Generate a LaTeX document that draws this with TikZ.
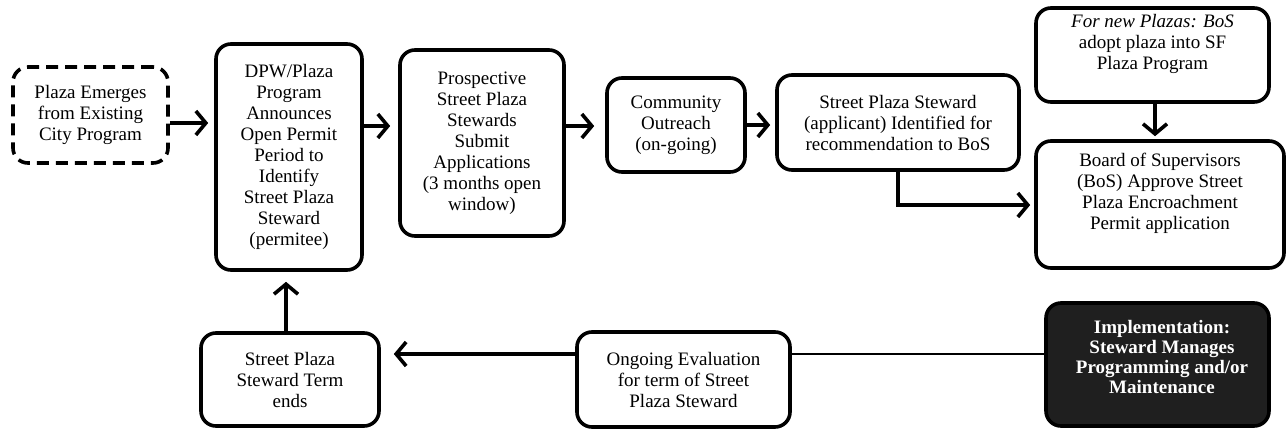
\documentclass[tikz,border=0pt]{standalone}
\usepackage{fontspec}
\setmainfont{Liberation Serif}
\usetikzlibrary{arrows.meta}
\begin{document}
\begin{tikzpicture}[x=1pt,y=-1pt,
  box/.style={draw=black, line width=3.6pt, rounded corners=15pt, align=center,
    font=\fontsize{19}{21}\selectfont, inner sep=0pt},
  dashbox/.style={box, dash pattern=on 12pt off 7pt},
  darkbox/.style={box, fill=black!88},
  txt/.style={align=center, font=\fontsize{19}{21}\selectfont, inner sep=0pt},
  arr/.style={line width=3.6pt, -{Straight Barb[length=10pt,width=24pt,line width=3.6pt]}},
  thin/.style={line width=2.6pt}
]
\useasboundingbox (0,0) rectangle (1286,429);

\node[dashbox, minimum width=155pt, minimum height=96pt] (emerge) at (90.5,115)
  {Plaza Emerges\\from Existing\\City Program};
\node[box, minimum width=146pt, minimum height=226pt] (dpw) at (289,157)
  {DPW/Plaza\\Program\\Announces\\Open Permit\\Period to\\Identify\\Street Plaza\\Steward\\(permitee)};
\node[box, minimum width=164pt, minimum height=186pt] (prosp) at (482,143)
  {Prospective\\Street Plaza\\Stewards\\Submit\\Applications\\(3 months open\\window)};
\node[box, minimum width=138pt, minimum height=94pt] (comm) at (676,125)
  {Community\\Outreach\\(on-going)};
\node[box, minimum width=242pt, minimum height=95pt] (appl) at (898,122.5)
  {Street Plaza Steward\\(applicant) Identified for\\recommendation to BoS};
\node[box, minimum width=233pt, minimum height=94pt] (newp) at (1152.5,55) {};
\node[txt] (newptxt) at (1152.5,44)
  {\textit{For new Plazas: BoS}\\adopt plaza into SF\\Plaza Program};
\node[box, minimum width=248pt, minimum height=127pt] (board) at (1160,204.5) {};
\node[txt] (boardtxt) at (1160,193)
  {Board of Supervisors\\(BoS) Approve Street\\Plaza Encroachment\\Permit application};
\node[darkbox, minimum width=223pt, minimum height=123pt] (impl) at (1157.5,364.5) {};
\node[txt, text=white, font=\fontsize{19}{20}\selectfont\bfseries] (impltxt) at (1162,357)
  {Implementation:\\Steward Manages\\Programming and/or\\Maintenance};
\node[box, minimum width=213pt, minimum height=95pt] (ongo) at (683.5,379.5)
  {Ongoing Evaluation\\for term of Street\\Plaza Steward};
\node[box, minimum width=178pt, minimum height=93pt] (term) at (290,379.5)
  {Street Plaza\\Steward Term\\ends};

\coordinate (r123) at (0,123);
\coordinate (r126) at (0,126);
\coordinate (r125) at (0,125);
\coordinate (r205) at (0,205);
\coordinate (r354) at (0,354);
\coordinate (c898) at (898,0);
\coordinate (c1155) at (1155,0);
\coordinate (c286) at (286,0);

\draw[arr, shorten >=6pt] (emerge.east |- r123) -- (dpw.west |- r123);
\draw[arr, shorten >=8pt] (dpw.east |- r126) -- (prosp.west |- r126);
\draw[arr, shorten >=11pt] (prosp.east |- r126) -- (comm.west |- r126);
\draw[arr, shorten >=5pt] (comm.east |- r125) -- (appl.west |- r125);
\draw[arr, shorten >=4pt] (appl.south -| c898) |- (board.west |- r205);
\draw[arr, shorten >=3pt] (newp.south -| c1155) -- (board.north -| c1155);
\draw[arr, shorten >=10pt] (term.north -| c286) -- (dpw.south -| c286);
\draw[thin] (impl.west |- r354) -- (ongo.east |- r354);
\draw[arr, shorten >=13pt] (ongo.west |- r354) -- (term.east |- r354);
\end{tikzpicture}
\end{document}
